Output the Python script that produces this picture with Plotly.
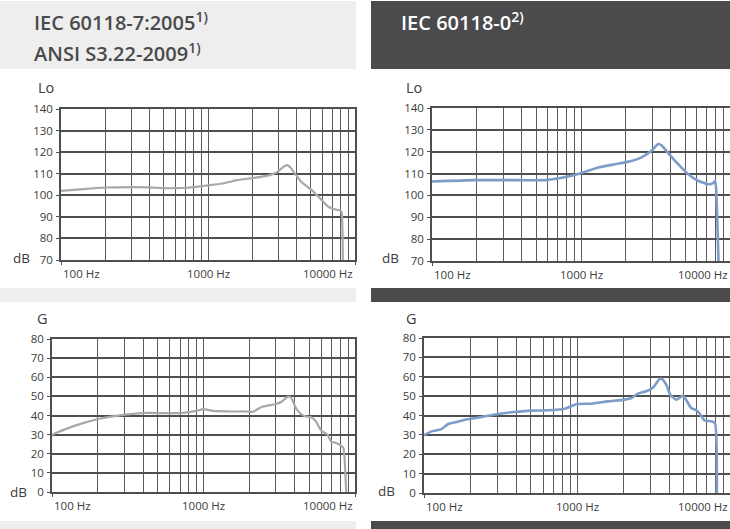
import math
import plotly.graph_objects as go

W, H = 730, 529

# ---------------- data ----------------
lo_iec7_freq = [100, 142, 204, 310, 400, 497, 600, 717, 850, 1000, 1283, 1567, 2030, 2506, 2750, 2930, 3150, 3340, 3470, 3650, 3900, 4340, 5070, 5780, 6590, 7200, 7910, 8090, 8260]
lo_iec7_db = [102, 102.9, 103.6, 103.8, 103.7, 103.3, 103.3, 103.5, 104.0, 104.6, 105.6, 107.0, 108.0, 109.0, 109.8, 110.6, 112.3, 113.7, 114.0, 112.8, 110.0, 106.0, 102.4, 98.6, 94.7, 93.6, 92.9, 92.4, 70]

lo_iec0_freq = [100, 195, 361, 574, 742, 1000, 1306, 1690, 2187, 2548, 2972, 3296, 3470, 3846, 4488, 5238, 6110, 7130, 7700, 7950, 8070, 8370]
lo_iec0_db = [106.4, 107, 107, 107, 108.1, 110.2, 112.8, 114.3, 115.8, 117.4, 120.4, 123.5, 122.9, 119.4, 114.3, 109.7, 106.7, 105.1, 105.6, 106.7, 103, 70]

g_iec7_freq = [100, 124, 160, 206, 265, 342, 440, 567, 731, 895, 1000, 1152, 1561, 1910, 2110, 2460, 3013, 3290, 3600, 3780, 4080, 4400, 4740, 5130, 5530, 5970, 6600, 6950, 7500, 8090, 8380, 8750]
g_iec7_db = [30, 33, 36, 38.3, 39.8, 40.9, 41.4, 41.2, 41.4, 42.4, 43.3, 42.4, 42.1, 42.1, 41.9, 44.7, 46, 47.3, 49.9, 49.4, 43.8, 40.7, 39.5, 39.1, 36.9, 32.2, 29.9, 26.4, 25.6, 24.3, 23, 0]

g_iec0_freq = [100, 112, 130, 144, 163, 185, 238, 305, 392, 503, 647, 831, 1000, 1240, 1590, 2050, 2270, 2500, 2830, 3120, 3460, 3580, 3830, 4090, 4450, 4670, 4910, 5150, 5570, 5990, 6290, 6810, 7510, 7970, 8210]
g_iec0_db = [29.8, 31.8, 33, 35.6, 36.6, 37.8, 39.2, 40.8, 41.8, 42.5, 42.7, 43.5, 45.9, 46.1, 47.3, 48.2, 49, 51.3, 52.5, 54.2, 58.8, 59, 55.9, 50.4, 48.2, 49, 50.2, 48.2, 43.9, 42.8, 41.3, 37.5, 37, 36.1, 0]

x_tick_vals = [100, 1000, 10000]
x_tick_text = ["100 Hz", "1000 Hz", "10000 Hz"]
minor_freqs = [200, 300, 400, 500, 600, 700, 800, 900, 1000, 2000, 3000, 4000, 5000, 6000, 7000, 8000, 9000]

header_left = ["IEC 60118-7:2005<sup>1)</sup>", "ANSI S3.22-2009<sup>1)</sup>"]
header_right = "IEC 60118-0<sup>2)</sup>"

# ---------------- styling ----------------
GRAY_LINE = "#a8a8a8"
BLUE_LINE = "#7d9dc8"
GRID = "#4f4f4f"
MINOR_GRID = "#5c5c5c"
TXT = "#3c3c3c"
LIGHT_BG = "#eeeeee"
DARK_BG = "#4b4b4d"
FONT = "Open Sans"


def px_x(p):
    return p / W


def px_y(p):
    return 1 - p / H


panels = [
    (1, 61, 355, 109, 260, [70, 140], lo_iec7_freq, lo_iec7_db, GRAY_LINE, 2.2, "Lo", (36, 87), (11, 258)),
    (2, 432, 730, 108, 261, [70, 140], lo_iec0_freq, lo_iec0_db, BLUE_LINE, 2.6, "Lo", (404, 87), (380, 258)),
    (3, 52, 355, 339, 492, [0, 80], g_iec7_freq, g_iec7_db, GRAY_LINE, 2.2, "G", (35, 318), (8, 492)),
    (4, 424, 730, 338, 493, [0, 80], g_iec0_freq, g_iec0_db, BLUE_LINE, 2.6, "G", (404, 318), (376, 491)),
]

fig = go.Figure()
layout = dict(
    width=W, height=H,
    margin=dict(l=0, r=0, t=0, b=0, pad=0, autoexpand=False),
    paper_bgcolor="white", plot_bgcolor="white",
    showlegend=False,
    font=dict(family=FONT, color=TXT, size=12),
)
annotations = []
shapes = []

for idx, x0, x1, yt, yb, yr, fr, db, col, lw, ttl, txy, dbxy in panels:
    xa = "x" if idx == 1 else f"x{idx}"
    ya = "y" if idx == 1 else f"y{idx}"
    fig.add_trace(go.Scatter(x=fr, y=db, mode="lines", xaxis=xa, yaxis=ya,
                             line=dict(color=col, width=lw, shape="spline", smoothing=0.5),
                             cliponaxis=True))
    xkey = "xaxis" if idx == 1 else f"xaxis{idx}"
    ykey = "yaxis" if idx == 1 else f"yaxis{idx}"
    layout[xkey] = dict(
        type="log", range=[2, 4], domain=[px_x(x0), min(px_x(x1), 1.0)], anchor=ya,
        tickmode="array", tickvals=[100, 10000], showticklabels=False,
        ticks="outside", ticklen=3, tickcolor=GRID, tickwidth=1,
        showgrid=True, gridcolor=GRID, gridwidth=1.5,
        minor=dict(tickmode="array", tickvals=minor_freqs, showgrid=True,
                   gridcolor=MINOR_GRID, gridwidth=1.4, ticks=""),
        showline=True, mirror=True, linecolor=GRID, linewidth=1.6,
        zeroline=False, fixedrange=True, automargin=False,
    )
    layout[ykey] = dict(
        range=yr, domain=[px_y(yb), px_y(yt)], anchor=xa,
        dtick=10, tick0=0, ticks="outside", ticklen=3, tickcolor=GRID, tickwidth=1,
        showgrid=True, gridcolor=GRID, gridwidth=1.5,
        showline=True, mirror=True, linecolor=GRID, linewidth=1.6,
        zeroline=False, tickfont=dict(size=11.5, color=TXT, family=FONT),
        ticklabelstandoff=1, fixedrange=True, automargin=False,
    )
    anchors = ["left", "center", "right"]
    for v, t, a in zip(x_tick_vals, x_tick_text, anchors):
        annotations.append(dict(
            x=math.log10(v), xref=xa, y=0, yref=f"{ya} domain",
            text=t, showarrow=False, xanchor=a, yanchor="top", yshift=-4,
            font=dict(size=11.5, color=TXT, family=FONT),
        ))
    annotations.append(dict(x=px_x(txy[0]), y=px_y(txy[1]), xref="paper", yref="paper",
                            text=ttl, showarrow=False, xanchor="left", yanchor="middle",
                            font=dict(size=14.5, color=TXT, family=FONT)))
    annotations.append(dict(x=px_x(dbxy[0]), y=px_y(dbxy[1]), xref="paper", yref="paper",
                            text="dB", showarrow=False, xanchor="left", yanchor="middle",
                            font=dict(size=13.5, color=TXT, family=FONT)))


def rect(x0, y0, x1, y1, color):
    shapes.append(dict(type="rect", xref="paper", yref="paper",
                       x0=px_x(x0), x1=px_x(x1), y0=px_y(y1), y1=px_y(y0),
                       fillcolor=color, line=dict(width=0), layer="below"))


rect(0, 1, 356, 69, LIGHT_BG)
rect(371, 1, 730, 69, DARK_BG)
rect(0, 288, 356, 302, LIGHT_BG)
rect(371, 288, 730, 302, DARK_BG)
rect(0, 521, 356, 529, LIGHT_BG)
rect(371, 521, 730, 529, DARK_BG)

annotations.append(dict(x=px_x(32), y=px_y(22), xref="paper", yref="paper",
                        text=header_left[0], showarrow=False, xanchor="left", yanchor="middle",
                        font=dict(size=20, color="#4a4a4a", family=FONT, weight=600)))
annotations.append(dict(x=px_x(32), y=px_y(52), xref="paper", yref="paper",
                        text=header_left[1], showarrow=False, xanchor="left", yanchor="middle",
                        font=dict(size=20, color="#4a4a4a", family=FONT, weight=600)))
annotations.append(dict(x=px_x(399), y=px_y(22), xref="paper", yref="paper",
                        text=header_right, showarrow=False, xanchor="left", yanchor="middle",
                        font=dict(size=20, color="white", family=FONT, weight=600)))

layout["annotations"] = annotations
layout["shapes"] = shapes
fig.update_layout(**layout)

post = (
    "document.documentElement.style.margin='0';"
    "document.body.style.margin='0';"
    "document.body.style.padding='0';"
    "document.body.style.overflow='hidden';"
)
fig.write_html("out.html", config={"displayModeBar": False}, post_script=post)
